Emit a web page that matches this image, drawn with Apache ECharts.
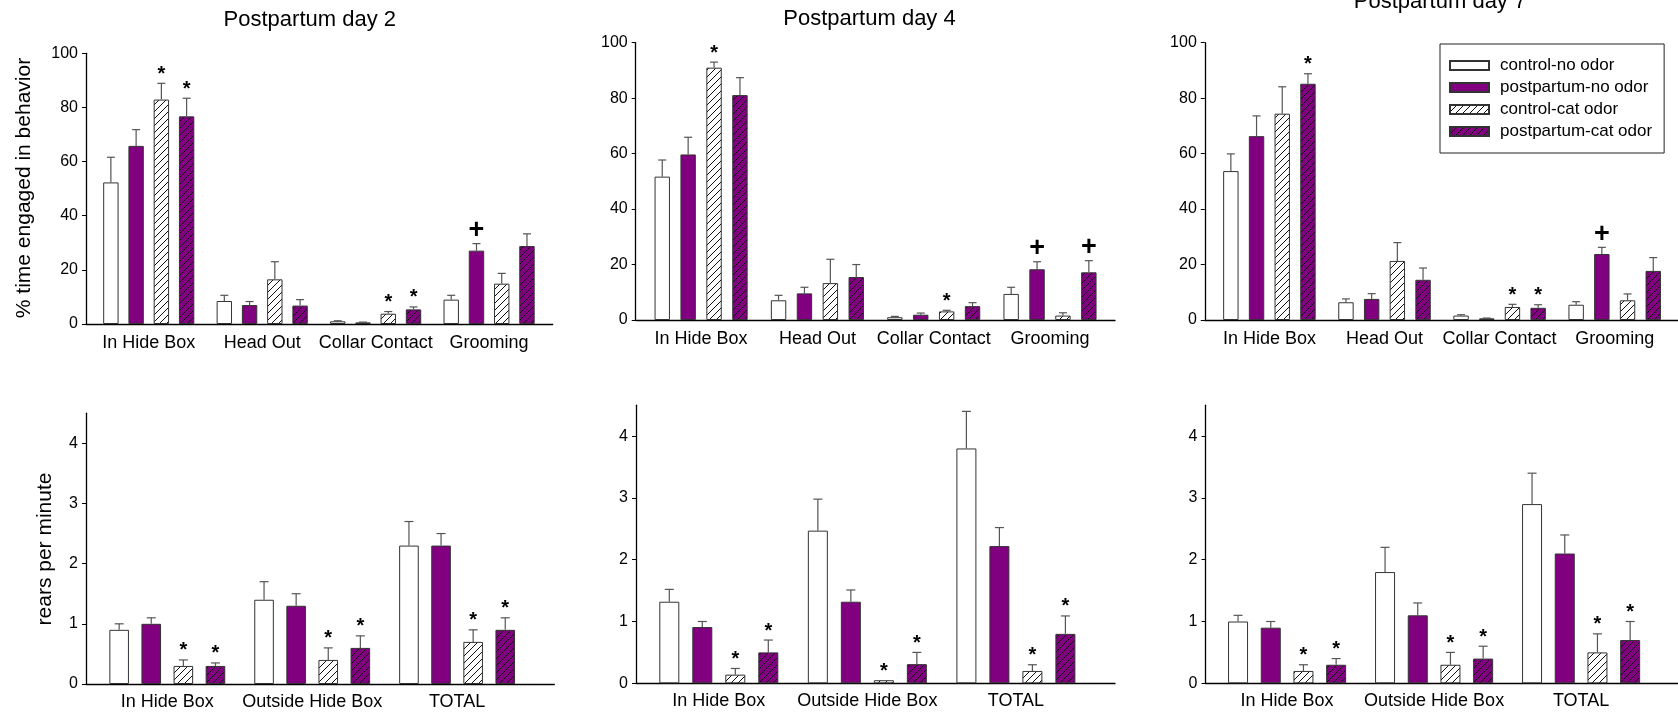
<!DOCTYPE html>
<html>
<head>
<meta charset="utf-8">
<script src="https://cdn.jsdelivr.net/npm/echarts@6/dist/echarts.min.js"></script>
<style>
html, body { margin: 0; background: #fff; }
#main { width: 1678px; height: 715px; }
</style>
</head>
<body>
<div id="main"></div>
<script>
// 类别、组别、刻度
var behaviorCats = ['In Hide Box', 'Head Out', 'Collar Contact', 'Grooming'];
var rearCats = ['In Hide Box', 'Outside Hide Box', 'TOTAL'];
var groupNames = ['control-no odor', 'postpartum-no odor', 'control-cat odor', 'postpartum-cat odor'];
var pctTicks = [0, 20, 40, 60, 80, 100];
var rearTicks = [0, 1, 2, 3, 4];

// % time engaged in behavior (rows = groupNames)
var day2Pct = [[52.3, 8.5, 1.0, 9.0], [65.8, 7.0, 0.6, 27.1], [82.9, 16.5, 3.8, 14.9], [76.7, 6.8, 5.4, 28.8]];
var day2PctSem = [[9.3, 2.1, 0.2, 1.6], [6.0, 1.3, 0.1, 2.6], [6.0, 6.5, 0.8, 3.8], [6.7, 2.2, 0.9, 4.5]];
var day2PctMark = [['', '', '', ''], ['', '', '', '+'], ['*', '', '*', ''], ['*', '', '*', '']];

var day4Pct = [[51.7, 7.1, 1.0, 9.4], [59.7, 9.6, 1.9, 18.3], [91.0, 13.3, 3.1, 1.6], [81.1, 15.5, 5.0, 17.2]];
var day4PctSem = [[6.0, 1.8, 0.3, 2.4], [6.2, 2.2, 0.6, 2.7], [2.0, 8.6, 0.4, 1.0], [6.3, 4.5, 1.25, 4.2]];
var day4PctMark = [['', '', '', ''], ['', '', '', '+'], ['*', '', '*', ''], ['', '', '', '+']];

var day7Pct = [[53.7, 6.4, 1.6, 5.5], [66.3, 7.6, 0.6, 23.8], [74.4, 21.3, 4.7, 7.1], [85.2, 14.5, 4.4, 17.7]];
var day7PctSem = [[6.2, 1.2, 0.3, 1.1], [7.3, 1.9, 0.1, 2.4], [9.7, 6.6, 0.95, 2.3], [3.6, 4.25, 1.1, 4.8]];
var day7PctMark = [['', '', '', ''], ['', '', '', '+'], ['', '', '*', ''], ['*', '', '*', '']];

// rears per minute
var day2Rear = [[0.9, 1.4, 2.3], [1.0, 1.3, 2.3], [0.3, 0.4, 0.7], [0.3, 0.6, 0.9]];
var day2RearSem = [[0.1, 0.3, 0.4], [0.1, 0.2, 0.2], [0.1, 0.2, 0.2], [0.05, 0.2, 0.2]];
var day4Rear = [[1.32, 2.47, 3.8], [0.91, 1.32, 2.22], [0.14, 0.05, 0.2], [0.5, 0.31, 0.8]];
var day4RearSem = [[0.2, 0.51, 0.6], [0.09, 0.19, 0.3], [0.1, 0, 0.1], [0.2, 0.19, 0.29]];
var day7Rear = [[1.0, 1.8, 2.9], [0.9, 1.1, 2.1], [0.2, 0.3, 0.5], [0.3, 0.4, 0.7]];
var day7RearSem = [[0.1, 0.4, 0.5], [0.1, 0.2, 0.3], [0.1, 0.2, 0.3], [0.1, 0.2, 0.3]];
var rearMark = [['', '', ''], ['', '', ''], ['*', '*', '*'], ['*', '*', '*']];

var FONT = 'Liberation Sans, Arial, sans-serif';
var PURPLE = '#800080';

function hatch(bg) {
    var s = 7;
    var c = document.createElement('canvas');
    c.width = s; c.height = s;
    var g = c.getContext('2d');
    g.fillStyle = bg;
    g.fillRect(0, 0, s, s);
    g.strokeStyle = '#111';
    g.lineWidth = 1;
    g.beginPath();
    g.moveTo(0, s); g.lineTo(s, 0);
    g.moveTo(-1, 1); g.lineTo(1, -1);
    g.moveTo(s - 1, s + 1); g.lineTo(s + 1, s - 1);
    g.stroke();
    return { image: c, repeat: 'repeat' };
}

var fills = ['#fff', PURPLE, hatch('#fff'), hatch(PURPLE)];

// 每个子图的位置
var panels = [
    { cats: behaviorCats, mean: day2Pct, sem: day2PctSem, mark: day2PctMark, ticks: pctTicks, yMax: 100, step: 20,
      left: 86, top: 53.3, width: 466.7, height: 270.7, c0: 148.75, gstep: 113.45, barW: 15.4, barStep: 25.25, cap: 8, lm: 10 },
    { cats: behaviorCats, mean: day4Pct, sem: day4PctSem, mark: day4PctMark, ticks: pctTicks, yMax: 100, step: 20,
      left: 635.7, top: 42.7, width: 479.3, height: 277.3, c0: 701.1, gstep: 116.3, barW: 15.4, barStep: 25.9, cap: 8, lm: 10 },
    { cats: behaviorCats, mean: day7Pct, sem: day7PctSem, mark: day7PctMark, ticks: pctTicks, yMax: 100, step: 20,
      left: 1204.8, top: 42.7, width: 473.2, height: 277.3, c0: 1269.4, gstep: 115.1, barW: 15.4, barStep: 25.7, cap: 8, lm: 10 },
    { cats: rearCats, mean: day2Rear, sem: day2RearSem, mark: rearMark, ticks: rearTicks, yMax: 4.5, step: 1,
      left: 86, top: 413.2, width: 468.3, height: 270.8, c0: 167.3, gstep: 144.9, barW: 19.6, barStep: 32.1, cap: 9, lm: 9 },
    { cats: rearCats, mean: day4Rear, sem: day4RearSem, mark: rearMark, ticks: rearTicks, yMax: 4.5, step: 1,
      left: 636, top: 405.2, width: 479, height: 278.1, c0: 718.8, gstep: 148.55, barW: 20, barStep: 33, cap: 9, lm: 9 },
    { cats: rearCats, mean: day7Rear, sem: day7RearSem, mark: rearMark, ticks: rearTicks, yMax: 4.5, step: 1,
      left: 1205.5, top: 405.2, width: 472.5, height: 278.1, c0: 1287.1, gstep: 147, barW: 20, barStep: 32.7, cap: 9, lm: 9 }
];

var grids = [], xAxes = [], yAxes = [], series = [];

panels.forEach(function (p, k) {
    grids.push({ left: p.left, top: p.top, width: p.width, height: p.height });
    xAxes.push({
        type: 'value',
        gridIndex: k,
        min: (p.left - p.c0) / p.gstep,
        max: (p.left + p.width - p.c0) / p.gstep,
        splitLine: { show: false },
        axisTick: { show: false },
        axisLine: { lineStyle: { color: '#000', width: 1.3 } },
        axisLabel: {
            customValues: p.cats.map(function (c, i) { return i; }),
            formatter: function (v) { return p.cats[v]; },
            fontSize: 18, color: '#000', margin: p.lm
        }
    });
    yAxes.push({
        type: 'value',
        gridIndex: k,
        min: 0, max: p.yMax, interval: p.step,
        splitLine: { show: false },
        axisLine: { show: true, onZero: false, lineStyle: { color: '#000', width: 1.3 } },
        axisTick: { show: true, length: 4, customValues: p.ticks, lineStyle: { color: '#000' } },
        axisLabel: { customValues: p.ticks, fontSize: 16, color: '#000', margin: 8 }
    });

    var items = [];
    groupNames.forEach(function (name, s) {
        series.push({
            type: 'bar',
            name: name,
            xAxisIndex: k, yAxisIndex: k,
            barWidth: p.barW,
            barGap: ((p.barStep - p.barW) / p.barW * 100) + '%',
            itemStyle: { color: fills[s], borderColor: '#333', borderWidth: 1 },
            data: p.mean[s].map(function (v, i) { return [i, v]; })
        });
        p.mean[s].forEach(function (v, i) {
            items.push({ i: i, s: s, v: v, e: p.sem[s][i], m: p.mark[s][i] });
        });
    });

    // 误差线和显著性标记
    series.push({
        type: 'custom',
        xAxisIndex: k, yAxisIndex: k,
        z: 5,
        data: items.map(function (d) { return [d.i, d.v + d.e]; }),
        renderItem: function (params, api) {
            var d = items[params.dataIndex];
            var base = api.coord([d.i, d.v]);
            var top = api.coord([d.i, d.v + d.e]);
            var x = base[0] + (d.s - 1.5) * p.barStep;
            var ch = [];
            if (d.e > 0) {
                ch.push({ type: 'line', shape: { x1: x, y1: base[1], x2: x, y2: top[1] },
                          style: { stroke: '#555', lineWidth: 1.2 } });
                ch.push({ type: 'line', shape: { x1: x - p.cap / 2, y1: top[1], x2: x + p.cap / 2, y2: top[1] },
                          style: { stroke: '#555', lineWidth: 1.2 } });
            }
            if (d.m) {
                var star = d.m === '*';
                ch.push({ type: 'text', style: {
                    x: x, y: top[1] - (star ? 9 : 13), text: d.m,
                    font: 'bold ' + (star ? 20 : 27) + 'px ' + FONT,
                    align: 'center', verticalAlign: 'middle', fill: '#000' } });
            }
            return { type: 'group', children: ch };
        }
    });
});

var myChart = echarts.init(document.getElementById('main'));
var option = {
    animation: false,
    textStyle: { fontFamily: FONT },
    legend: {
        data: groupNames,
        orient: 'vertical',
        left: 1440, top: 44,
        padding: [13, 12, 13, 9],
        itemWidth: 39, itemHeight: 9, itemGap: 5,
        icon: 'rect',
        borderColor: '#222', borderWidth: 1,
        textStyle: { fontSize: 17, color: '#000', padding: [0, 0, 0, 6] }
    },
    graphic: [
        { type: 'text', style: { x: 309.8, y: 19.7, text: 'Postpartum day 2', font: '22px ' + FONT, align: 'center', verticalAlign: 'middle', fill: '#000' } },
        { type: 'text', style: { x: 869.5, y: 19.1, text: 'Postpartum day 4', font: '22px ' + FONT, align: 'center', verticalAlign: 'middle', fill: '#000' } },
        { type: 'text', style: { x: 1440, y: 2.4, text: 'Postpartum day 7', font: '22px ' + FONT, align: 'center', verticalAlign: 'middle', fill: '#000' } },
        { type: 'text', x: 24, y: 188, rotation: Math.PI / 2, style: { x: 0, y: 0, text: '% time engaged in behavior', font: '21px ' + FONT, align: 'center', verticalAlign: 'middle', fill: '#000' } },
        { type: 'text', x: 45, y: 549, rotation: Math.PI / 2, style: { x: 0, y: 0, text: 'rears per minute', font: '21px ' + FONT, align: 'center', verticalAlign: 'middle', fill: '#000' } }
    ],
    grid: grids,
    xAxis: xAxes,
    yAxis: yAxes,
    series: series
};
myChart.setOption(option);
</script>
</body>
</html>
